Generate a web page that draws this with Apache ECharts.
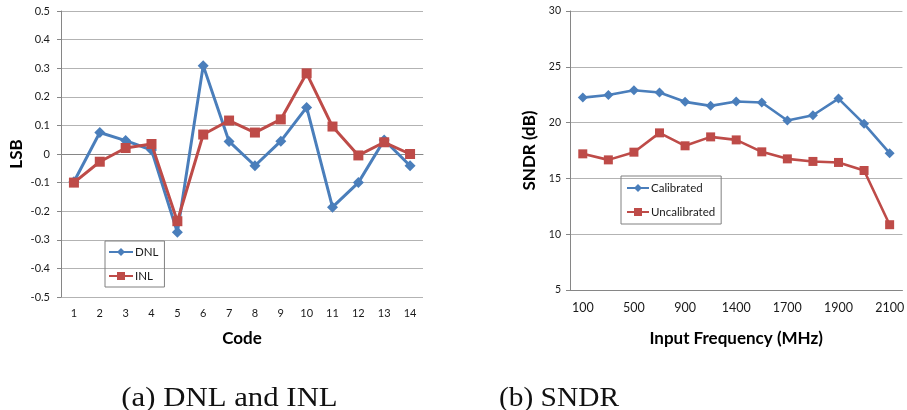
<!DOCTYPE html>
<html>
<head>
<meta charset="utf-8">
<script src="https://cdn.jsdelivr.net/npm/echarts@6/dist/echarts.min.js"></script>
<style>
html,body{margin:0;padding:0;background:#fff;}
#chart{width:907px;height:410px;}
</style>
</head>
<body>
<div id="chart"></div>
<script>
// ---- Data ----
const codes = ['1','2','3','4','5','6','7','8','9','10','11','12','13','14'];
const dnl = [-0.097, 0.075, 0.047, 0.014, -0.274, 0.309, 0.044, -0.041, 0.045, 0.163, -0.186, -0.100, 0.049, -0.041];
const inl = [-0.100, -0.027, 0.021, 0.035, -0.235, 0.068, 0.117, 0.075, 0.121, 0.282, 0.096, -0.005, 0.041, 0.000];

const freqs = ['100','300','500','700','900','1200','1400','1550','1700','1800','1900','2000','2100'];
const calibrated = [22.24, 22.48, 22.9, 22.69, 21.86, 21.5, 21.89, 21.8, 20.19, 20.66, 22.15, 19.89, 17.26];
const uncalibrated = [17.2, 16.66, 17.35, 19.08, 17.92, 18.72, 18.45, 17.38, 16.75, 16.52, 16.43, 15.71, 10.85];

const captions = ['(a) DNL and INL', '(b) SNDR'];

// ---- Styles ----
const BLUE = '#4a7ebb';
const RED = '#be4b48';
const AXIS = '#868686';
const GRID = '#b3b3b3';
const FONT = 'Lato';

const chart = echarts.init(document.getElementById('chart'), null, {renderer: 'canvas'});

function yAxisBase(extra) {
  return Object.assign({
    type: 'value',
    axisLine: {show: true, lineStyle: {color: AXIS, width: 1}},
    axisTick: {show: true, inside: false, length: 4, lineStyle: {color: AXIS}},
    splitLine: {show: true, lineStyle: {color: GRID, width: 1}},
    nameLocation: 'middle',
    nameRotate: 90,
    nameTextStyle: {fontFamily: FONT, fontWeight: 'bold', fontSize: 17, color: '#000'}
  }, extra);
}
function xAxisBase(extra) {
  return Object.assign({
    type: 'category',
    boundaryGap: true,
    axisLine: {show: true, lineStyle: {color: AXIS, width: 1}},
    axisTick: {show: false},
    splitLine: {show: false},
    nameLocation: 'middle',
    nameTextStyle: {fontFamily: FONT, fontWeight: 'bold', fontSize: 17, color: '#000'}
  }, extra);
}

const option = {
  animation: false,
  backgroundColor: '#fff',
  grid: [
    {left: 61, top: 11, width: 362, height: 286, containLabel: false},
    {left: 570, top: 11, width: 336, height: 279, containLabel: false}
  ],
  xAxis: [
    xAxisBase({
      gridIndex: 0, data: codes, name: 'Code', nameGap: 33,
      axisLabel: {fontFamily: FONT, fontSize: 11, color: '#1a1a1a', margin: 11, interval: 0}
    }),
    xAxisBase({
      gridIndex: 1, data: freqs, name: 'Input Frequency (MHz)', nameGap: 40,
      axisLabel: {fontFamily: FONT, fontSize: 12.5, color: '#1a1a1a', margin: 11, interval: 1}
    })
  ],
  yAxis: [
    yAxisBase({
      gridIndex: 0, min: -0.5, max: 0.5, interval: 0.1, name: 'LSB', nameGap: 36,
      axisLabel: {fontFamily: FONT, fontSize: 11, color: '#1a1a1a', margin: 11,
        formatter: v => { const r = Math.round(v * 10) / 10; return r === 0 ? '0' : r.toFixed(1); }}
    }),
    yAxisBase({
      gridIndex: 1, min: 5, max: 30, interval: 5, name: 'SNDR (dB)', nameGap: 32,
      axisLabel: {fontFamily: FONT, fontSize: 10.5, color: '#1a1a1a', margin: 9}
    })
  ],
  legend: [
    {
      data: ['DNL', 'INL'],
      orient: 'vertical', left: 105, top: 241, width: 56,
      padding: [5, 6, 5, 3],
      itemGap: 12, itemWidth: 24, itemHeight: 10,
      borderColor: '#808080', borderWidth: 1,
      textStyle: {fontFamily: FONT, fontSize: 11.5, color: '#1a1a1a', padding: [0, 0, 0, -3]}
    },
    {
      data: ['Calibrated', 'Uncalibrated'],
      orient: 'vertical', left: 621, top: 176,
      padding: [6, 6, 6, 5],
      itemGap: 12, itemWidth: 22, itemHeight: 10,
      borderColor: '#808080', borderWidth: 1,
      textStyle: {fontFamily: FONT, fontSize: 11.5, color: '#1a1a1a', padding: [0, 0, 0, -3]}
    }
  ],
  series: [
    {name: 'DNL', type: 'line', xAxisIndex: 0, yAxisIndex: 0, data: dnl,
     symbol: 'diamond', symbolSize: 11, lineStyle: {color: BLUE, width: 3},
     itemStyle: {color: BLUE}, z: 2},
    {name: 'INL', type: 'line', xAxisIndex: 0, yAxisIndex: 0, data: inl,
     symbol: 'rect', symbolSize: 10, lineStyle: {color: RED, width: 3},
     itemStyle: {color: RED}, z: 3},
    {name: 'Calibrated', type: 'line', xAxisIndex: 1, yAxisIndex: 1, data: calibrated,
     symbol: 'diamond', symbolSize: 10, lineStyle: {color: BLUE, width: 2.6},
     itemStyle: {color: BLUE}, z: 2},
    {name: 'Uncalibrated', type: 'line', xAxisIndex: 1, yAxisIndex: 1, data: uncalibrated,
     symbol: 'rect', symbolSize: 9, lineStyle: {color: RED, width: 2.6},
     itemStyle: {color: RED}, z: 3}
  ],
  graphic: [
    {type: 'text', x: 229.5, y: 399, scaleX: 1.1,
     style: {text: captions[0], font: '28px "Liberation Serif"', fill: '#111',
       align: 'center', verticalAlign: 'middle'}},
    {type: 'text', x: 559, y: 399, scaleX: 1.05,
     style: {text: captions[1], font: '28px "Liberation Serif"', fill: '#111',
       align: 'center', verticalAlign: 'middle'}}
  ]
};
chart.setOption(option);
</script>
</body>
</html>
